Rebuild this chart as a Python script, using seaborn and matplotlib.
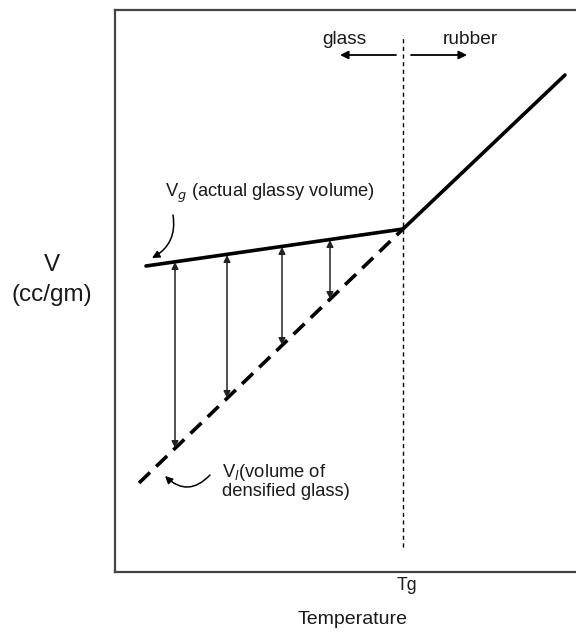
import matplotlib
matplotlib.use("Agg")
import matplotlib.pyplot as plt
import seaborn as sns
import pandas as pd

# ---- data (arbitrary temperature / volume units) ----
glassy_T = [31, 288]
glassy_V = [306, 343]
rubber_T = [288, 450]
rubber_V = [343, 497]
densified_T = [24, 288]
densified_V = [89, 343]
Tg = 288
tg_line_V = [25, 537]
arrow_T = [60, 112, 167, 215]
arrow_top = [310, 317, 325, 332]
arrow_bottom = [124, 174, 227, 273]

sns.set_style("white")
plt.rcParams['font.family'] = ['Liberation Sans', 'DejaVu Sans']
TXT = "#1a1a1a"

W, H = 576, 633
fig = plt.figure(figsize=(W / 100, H / 100), dpi=100)
ax = fig.add_axes([115 / W, (H - 572) / H, (576 - 115) / W, (572 - 10) / H])

df_glass = pd.DataFrame({"T": glassy_T, "V": glassy_V})
df_rub = pd.DataFrame({"T": rubber_T, "V": rubber_V})
df_den = pd.DataFrame({"T": densified_T, "V": densified_V})

sns.lineplot(data=df_glass, x="T", y="V", ax=ax, color="black", lw=2.6)
sns.lineplot(data=df_rub, x="T", y="V", ax=ax, color="black", lw=2.6)
sns.lineplot(data=df_den, x="T", y="V", ax=ax, color="black", lw=2.6,
             dashes=False)
ax.lines[-1].set_dashes((4.2, 2.4))
ax.lines[-1].set_dash_capstyle('butt')

ax.plot([Tg, Tg], tg_line_V, color="black", lw=1.0, dashes=(3, 2.5))

for t, top, bot in zip(arrow_T, arrow_top, arrow_bottom):
    ax.annotate("", xy=(t, top), xytext=(t, bot),
                arrowprops=dict(arrowstyle="<|-|>", color="#222222", lw=1.1,
                                mutation_scale=10, shrinkA=0, shrinkB=0))

ax.set_xlim(0, 461)
ax.set_ylim(0, 562)
ax.set_xticks([])
ax.set_yticks([])
ax.set_xlabel("")
ax.set_ylabel("")
for s in ["left", "top", "bottom"]:
    ax.spines[s].set_color("#444444")
    ax.spines[s].set_linewidth(1.6)
ax.spines["right"].set_visible(False)

# glass / rubber labels
ax.text(229, 532, "glass", ha="center", va="center", fontsize=13.8, color=TXT)
ax.text(355, 532, "rubber", ha="center", va="center", fontsize=13.8, color=TXT)
ax.annotate("", xy=(225, 517), xytext=(281, 517),
            arrowprops=dict(arrowstyle="-|>", color="black", lw=1.3,
                            mutation_scale=12, shrinkA=0, shrinkB=0))
ax.annotate("", xy=(352, 517), xytext=(296, 517),
            arrowprops=dict(arrowstyle="-|>", color="black", lw=1.3,
                            mutation_scale=12, shrinkA=0, shrinkB=0))

# V_g label
ax.text(50, 379, r"V$_{g}$ (actual glassy volume)", ha="left", va="center",
        fontsize=13.2, color=TXT)
ax.annotate("", xy=(37, 314), xytext=(58, 357),
            arrowprops=dict(arrowstyle="-|>", color="black", lw=1.1,
                            mutation_scale=11, shrinkA=0, shrinkB=0,
                            connectionstyle="arc3,rad=-0.35"))

# V_l label
ax.text(107, 91, r"V$_{l}$(volume of" + "\n" + "densified glass)",
        ha="left", va="center", fontsize=13.2, linespacing=1.05, color=TXT)
ax.annotate("", xy=(50, 96), xytext=(95, 97),
            arrowprops=dict(arrowstyle="-|>", color="black", lw=1.1,
                            mutation_scale=11, shrinkA=0, shrinkB=0,
                            connectionstyle="arc3,rad=-0.5"))

# axis labels as figure text
fig.text(407 / W, 1 - 586 / H, "Tg", ha="center", va="center", fontsize=12.8,
         color=TXT)
fig.text(353 / W, 1 - 620 / H, "Temperature", ha="center", va="center",
         fontsize=14, color=TXT)
fig.text(52 / W, 1 - 265 / H, "V", ha="center", va="center", fontsize=17.5,
         color=TXT)
fig.text(52 / W, 1 - 295 / H, "(cc/gm)", ha="center", va="center",
         fontsize=17.5, color=TXT)

fig.savefig("out.png", dpi=100)
